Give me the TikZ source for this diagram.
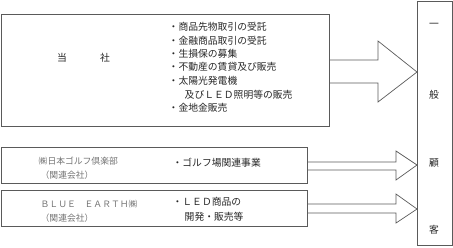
\documentclass[tikz,border=0pt]{standalone}
\usepackage{fontspec}
\newfontfamily\jp{Noto Sans CJK JP}
\definecolor{linegray}{HTML}{5A5A5A}
\begin{document}
\begin{tikzpicture}[x=1pt,y=-1pt,
  box/.style={draw=linegray, line width=0.9pt, inner sep=0pt, anchor=north west},
  txt/.style={font=\jp\fontsize{9.8}{11}\selectfont, inner sep=0pt, anchor=west, text=black!85},
  sub/.style={font=\jp\fontsize{8.8}{10}\selectfont, inner sep=0pt, anchor=west, text=black!55},
  big/.style={font=\jp\fontsize{9.8}{11}\selectfont, inner sep=0pt, text=black!85},
  arr/.style={draw=linegray, line width=0.7pt, line join=miter}]
\useasboundingbox (0,0) rectangle (453,247);
\node[box, minimum width=328pt, minimum height=112pt] (tosha) at (1,14) {};
\node[box, minimum width=306pt, minimum height=36pt] (golf) at (1,147) {};
\node[box, minimum width=306pt, minimum height=36pt] (blue) at (1,190) {};
\node[box, minimum width=35pt, minimum height=244pt] (kokyaku) at (417,1) {};
% arrows
\draw[arr] (tosha.east |- 0,60) -- (378,60) -- (378,41) -- (kokyaku.west |- 0,72) -- (378,102) -- (378,83) -- (tosha.east |- 0,83);
\draw[arr] (golf.east |- 0,162) -- (396,162) -- (396,151) -- (kokyaku.west |- 0,165) -- (396,180) -- (396,170) -- (golf.east |- 0,170);
\draw[arr] (blue.east |- 0,204) -- (396,204) -- (396,194) -- (kokyaku.west |- 0,209) -- (396,223) -- (396,213) -- (blue.east |- 0,213);
% main company
\node[big] (t1) at (62,58) {当};
\node[big] (t2) at (105,58) {社};
\node[txt] (l1) at (168.5,27) {・商品先物取引の受託};
\node[txt] (l2) at (168.5,40.3) {・金融商品取引の受託};
\node[txt] (l3) at (168.5,53.6) {・生損保の募集};
\node[txt] (l4) at (168.5,67) {・不動産の賃貸及び販売};
\node[txt] (l5) at (168.5,80.6) {・太陽光発電機};
\node[txt] (l6) at (184.5,94.5) {及びＬＥＤ照明等の販売};
\node[txt] (l7) at (168.5,107.7) {・金地金販売};
% golf
\node[sub] (g1) at (38.5,161.5) {㈱日本ゴルフ倶楽部};
\node[sub] (g2) at (40.5,175) {（関連会社）};
\node[txt] (g3) at (172.4,163) {・ゴルフ場関連事業};
% blue earth
\node[sub] (b1) at (40.5,204) {ＢＬＵＥ　ＥＡＲＴＨ㈱};
\node[sub] (b2) at (40.5,218) {（関連会社）};
\node[txt] (b3) at (172.4,202) {・ＬＥＤ商品の};
\node[txt] (b4) at (184.5,217) {開発・販売等};
% customers
\node[big] (k1) at (434,25) {一};
\node[big] (k2) at (434,95) {般};
\node[big] (k3) at (434,163) {顧};
\node[big] (k4) at (434,230) {客};
\end{tikzpicture}
\end{document}
